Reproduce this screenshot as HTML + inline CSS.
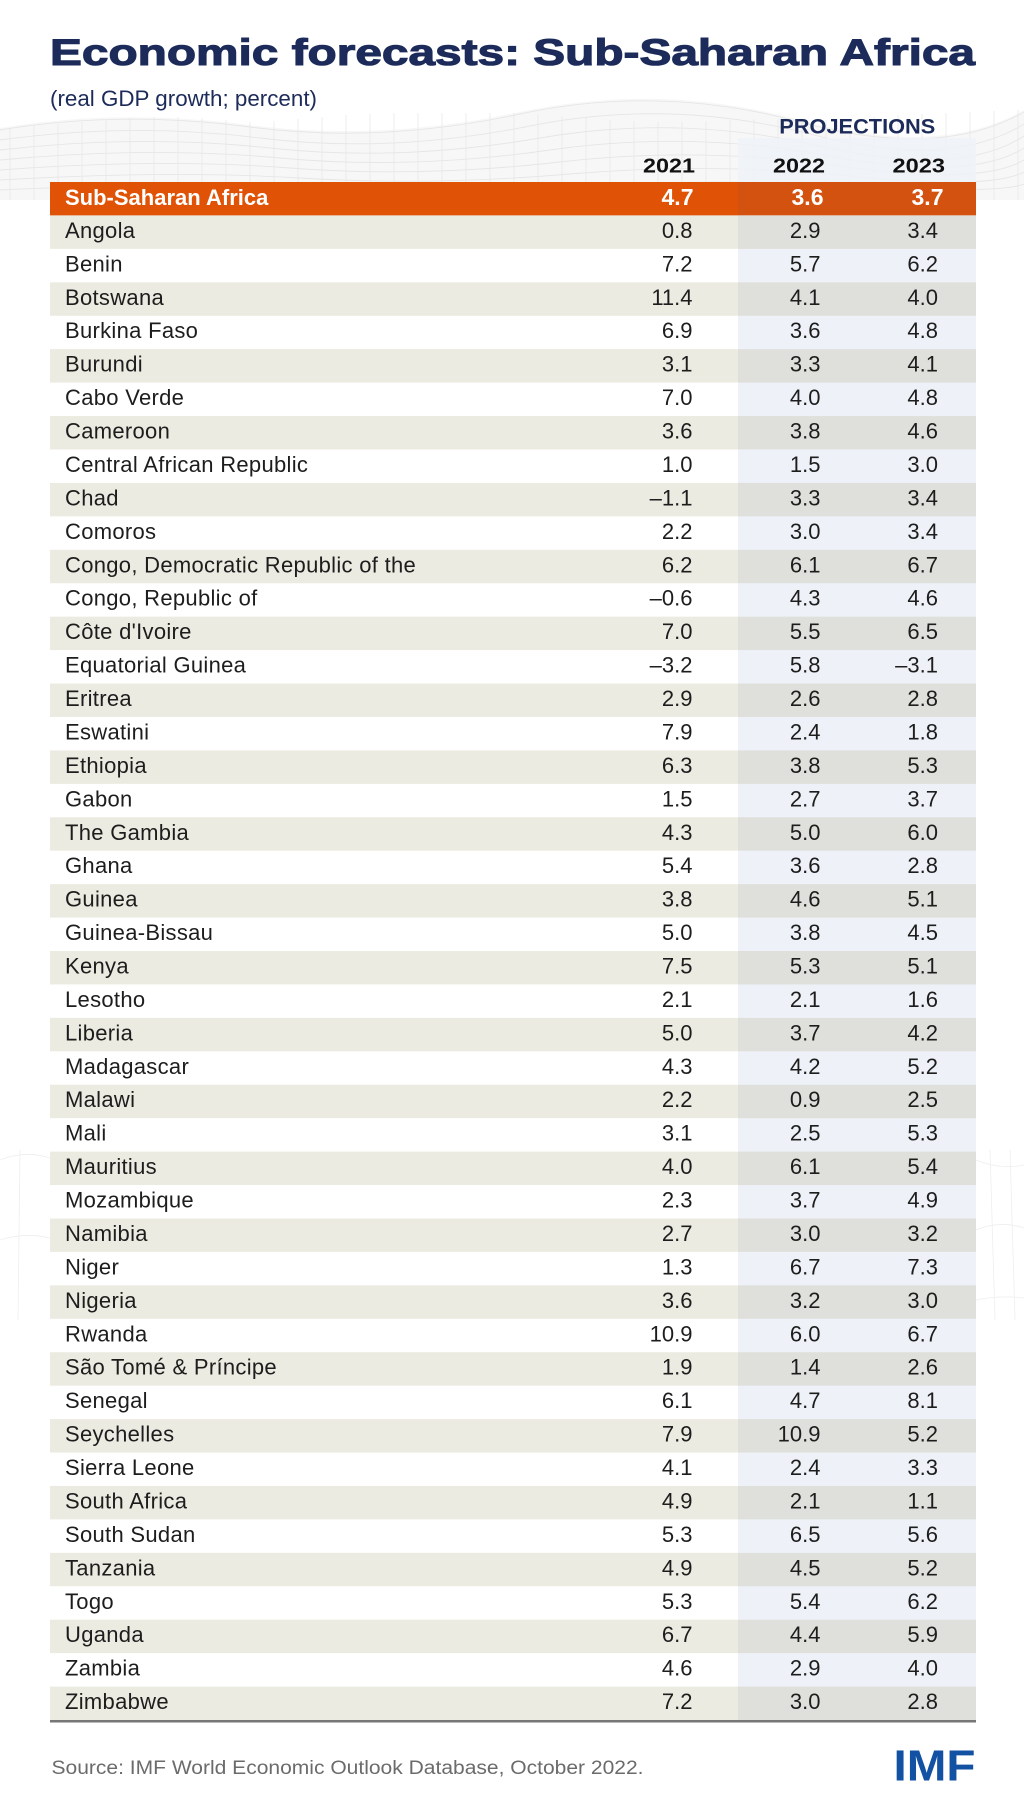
<!DOCTYPE html>
<html><head><meta charset="utf-8"><style>
html,body{margin:0;padding:0;background:#fff;}
svg{display:block;}
.n{font-family:"Liberation Sans",sans-serif;font-size:22px;fill:#1d1d1d;letter-spacing:0.3px;}
.v{font-family:"Liberation Sans",sans-serif;font-size:22px;fill:#1d1d1d;text-anchor:end;}
</style></head><body>
<svg width="1024" height="1820" viewBox="0 0 1024 1820" xmlns="http://www.w3.org/2000/svg">
<rect width="1024" height="1820" fill="#fff"/>
<!-- mesh background -->
<path d="M0 128 Q120 108 250 125 T520 112 T800 120 T1024 110 L1024 200 L0 200Z" fill="#f7f7f7"/>
<g fill="none" stroke="#e6e6e6" stroke-width="0.9">
<path d="M0 130 Q120 110 250 127 T520 114 T800 122 T1024 112"/>
<path d="M0 140 Q130 122 260 138 T530 126 T810 134 T1024 124"/>
<path d="M0 150 Q140 134 270 148 T540 138 T820 146 T1024 136"/>
<path d="M0 160 Q150 146 280 158 T550 150 T830 156 T1024 148"/>
<path d="M0 170 Q160 158 290 168 T560 162 T840 166 T1024 160"/>
<path d="M0 180 Q170 170 300 178 T570 174 T850 176 T1024 172"/>
<path d="M0 190 Q180 182 310 188 T580 186 T860 186 T1024 184"/>
</g>
<g stroke="#e8e8e8" stroke-width="0.8">
<path d="M10 128V200M34 126V200M58 124V200M82 122V200M106 120V200M130 118V200M154 117V200M178 117V200M202 118V200M226 120V200M250 122V200M274 121V200M298 119V200M322 117V200M346 115V200M370 114V200M394 113V200M418 113V200M442 113V200M466 113V200M490 113V200M514 113V200M538 114V200M562 116V200M586 118V200M610 120V200M634 121V200M658 122V200M682 122V200M706 121V200M730 120V200M754 119V200M778 119V200M802 120V200M826 120V200M850 119V200M874 117V200M898 115V200M922 114V200M946 113V200M970 112V200M994 111V200M1018 110V200"/>
</g>
<g fill="none" stroke="#eeeeee" stroke-width="0.8">
<path d="M976 1160 Q1000 1170 1024 1165M976 1230 Q1000 1220 1024 1228M976 1300 Q1000 1295 1024 1298M990 1150 L995 1320M1010 1150 L1015 1320"/>
<path d="M0 1160 Q25 1150 50 1158M0 1240 Q25 1232 50 1238M20 1150 L18 1320"/>
</g>

<!-- Title -->
<text x="50" y="65" font-family="Liberation Sans, sans-serif" font-weight="bold" font-size="37.5" fill="#1c2b5a" stroke="#1c2b5a" stroke-width="1.1" textLength="925" lengthAdjust="spacingAndGlyphs">Economic forecasts: Sub-Saharan Africa</text>
<text x="50" y="106" font-family="Liberation Sans, sans-serif" font-size="22" fill="#1c2b5a" textLength="267" lengthAdjust="spacingAndGlyphs">(real GDP growth; percent)</text>

<!-- projections band header -->
<rect x="738" y="138" width="238" height="44" fill="#eef2f7" opacity="0.9"/>
<text x="779.3" y="133.3" font-family="Liberation Sans, sans-serif" font-weight="bold" font-size="21" fill="#1c2b5a" textLength="156" lengthAdjust="spacingAndGlyphs">PROJECTIONS</text>
<g font-family="Liberation Sans, sans-serif" font-weight="bold" font-size="20" fill="#111">
<text x="643" y="172.7" textLength="52" lengthAdjust="spacingAndGlyphs">2021</text>
<text x="773" y="172.7" textLength="52" lengthAdjust="spacingAndGlyphs">2022</text>
<text x="892.5" y="172.7" textLength="52.5" lengthAdjust="spacingAndGlyphs">2023</text>
</g>

<!-- Row backgrounds -->
<rect x="50" y="182" width="926" height="33.43" fill="#e05206"/>
<rect x="738" y="182" width="238" height="33.43" fill="#d4520f"/>
<g fill="#ecebe1">
<rect x="50" y="215.43" width="926" height="33.44"/>
<rect x="50" y="282.30" width="926" height="33.44"/>
<rect x="50" y="349.17" width="926" height="33.44"/>
<rect x="50" y="416.04" width="926" height="33.44"/>
<rect x="50" y="482.91" width="926" height="33.44"/>
<rect x="50" y="549.78" width="926" height="33.44"/>
<rect x="50" y="616.65" width="926" height="33.44"/>
<rect x="50" y="683.52" width="926" height="33.44"/>
<rect x="50" y="750.39" width="926" height="33.44"/>
<rect x="50" y="817.26" width="926" height="33.44"/>
<rect x="50" y="884.13" width="926" height="33.44"/>
<rect x="50" y="951.00" width="926" height="33.44"/>
<rect x="50" y="1017.87" width="926" height="33.44"/>
<rect x="50" y="1084.74" width="926" height="33.44"/>
<rect x="50" y="1151.61" width="926" height="33.44"/>
<rect x="50" y="1218.48" width="926" height="33.44"/>
<rect x="50" y="1285.35" width="926" height="33.44"/>
<rect x="50" y="1352.22" width="926" height="33.44"/>
<rect x="50" y="1419.09" width="926" height="33.44"/>
<rect x="50" y="1485.96" width="926" height="33.44"/>
<rect x="50" y="1552.83" width="926" height="33.44"/>
<rect x="50" y="1619.70" width="926" height="33.44"/>
<rect x="50" y="1686.57" width="926" height="33.43"/>
</g>
<rect x="738" y="215.43" width="238" height="1504.57" fill="#eef2f8"/>
<g fill="#dfe0db">
<rect x="738" y="215.43" width="238" height="33.44"/>
<rect x="738" y="282.30" width="238" height="33.44"/>
<rect x="738" y="349.17" width="238" height="33.44"/>
<rect x="738" y="416.04" width="238" height="33.44"/>
<rect x="738" y="482.91" width="238" height="33.44"/>
<rect x="738" y="549.78" width="238" height="33.44"/>
<rect x="738" y="616.65" width="238" height="33.44"/>
<rect x="738" y="683.52" width="238" height="33.44"/>
<rect x="738" y="750.39" width="238" height="33.44"/>
<rect x="738" y="817.26" width="238" height="33.44"/>
<rect x="738" y="884.13" width="238" height="33.44"/>
<rect x="738" y="951.00" width="238" height="33.44"/>
<rect x="738" y="1017.87" width="238" height="33.44"/>
<rect x="738" y="1084.74" width="238" height="33.44"/>
<rect x="738" y="1151.61" width="238" height="33.44"/>
<rect x="738" y="1218.48" width="238" height="33.44"/>
<rect x="738" y="1285.35" width="238" height="33.44"/>
<rect x="738" y="1352.22" width="238" height="33.44"/>
<rect x="738" y="1419.09" width="238" height="33.44"/>
<rect x="738" y="1485.96" width="238" height="33.44"/>
<rect x="738" y="1552.83" width="238" height="33.44"/>
<rect x="738" y="1619.70" width="238" height="33.44"/>
<rect x="738" y="1686.57" width="238" height="33.43"/>
</g>
<rect x="50" y="1720" width="926" height="2.5" fill="#767676"/>

<!-- SSA row -->
<g font-family="Liberation Sans, sans-serif" font-weight="bold" fill="#fff">
<text x="65" y="205" font-size="22">Sub-Saharan Africa</text>
<text x="693.5" y="205" font-size="23" text-anchor="end">4.7</text>
<text x="823.5" y="205" font-size="23" text-anchor="end">3.6</text>
<text x="943.5" y="205" font-size="23" text-anchor="end">3.7</text>
</g>

<!-- Country names -->
<g class="n">
<text x="65" y="237.9" class="n">Angola</text>
<text x="65" y="271.4" class="n">Benin</text>
<text x="65" y="304.8" class="n">Botswana</text>
<text x="65" y="338.2" class="n">Burkina Faso</text>
<text x="65" y="371.7" class="n">Burundi</text>
<text x="65" y="405.1" class="n">Cabo Verde</text>
<text x="65" y="438.5" class="n">Cameroon</text>
<text x="65" y="472.0" class="n">Central African Republic</text>
<text x="65" y="505.4" class="n">Chad</text>
<text x="65" y="538.9" class="n">Comoros</text>
<text x="65" y="572.3" class="n">Congo, Democratic Republic of the</text>
<text x="65" y="605.7" class="n">Congo, Republic of</text>
<text x="65" y="639.2" class="n">Côte d'Ivoire</text>
<text x="65" y="672.6" class="n">Equatorial Guinea</text>
<text x="65" y="706.0" class="n">Eritrea</text>
<text x="65" y="739.5" class="n">Eswatini</text>
<text x="65" y="772.9" class="n">Ethiopia</text>
<text x="65" y="806.3" class="n">Gabon</text>
<text x="65" y="839.8" class="n">The Gambia</text>
<text x="65" y="873.2" class="n">Ghana</text>
<text x="65" y="906.6" class="n">Guinea</text>
<text x="65" y="940.1" class="n">Guinea-Bissau</text>
<text x="65" y="973.5" class="n">Kenya</text>
<text x="65" y="1006.9" class="n">Lesotho</text>
<text x="65" y="1040.4" class="n">Liberia</text>
<text x="65" y="1073.8" class="n">Madagascar</text>
<text x="65" y="1107.2" class="n">Malawi</text>
<text x="65" y="1140.7" class="n">Mali</text>
<text x="65" y="1174.1" class="n">Mauritius</text>
<text x="65" y="1207.5" class="n">Mozambique</text>
<text x="65" y="1241.0" class="n">Namibia</text>
<text x="65" y="1274.4" class="n">Niger</text>
<text x="65" y="1307.9" class="n">Nigeria</text>
<text x="65" y="1341.3" class="n">Rwanda</text>
<text x="65" y="1374.7" class="n">São Tomé &amp; Príncipe</text>
<text x="65" y="1408.2" class="n">Senegal</text>
<text x="65" y="1441.6" class="n">Seychelles</text>
<text x="65" y="1475.0" class="n">Sierra Leone</text>
<text x="65" y="1508.5" class="n">South Africa</text>
<text x="65" y="1541.9" class="n">South Sudan</text>
<text x="65" y="1575.3" class="n">Tanzania</text>
<text x="65" y="1608.8" class="n">Togo</text>
<text x="65" y="1642.2" class="n">Uganda</text>
<text x="65" y="1675.6" class="n">Zambia</text>
<text x="65" y="1709.1" class="n">Zimbabwe</text>
</g>

<!-- 2021 -->
<g class="v">
<text x="692.5" y="237.9" class="v">0.8</text>
<text x="692.5" y="271.4" class="v">7.2</text>
<text x="692.5" y="304.8" class="v">11.4</text>
<text x="692.5" y="338.2" class="v">6.9</text>
<text x="692.5" y="371.7" class="v">3.1</text>
<text x="692.5" y="405.1" class="v">7.0</text>
<text x="692.5" y="438.5" class="v">3.6</text>
<text x="692.5" y="472.0" class="v">1.0</text>
<text x="692.5" y="505.4" class="v">–1.1</text>
<text x="692.5" y="538.9" class="v">2.2</text>
<text x="692.5" y="572.3" class="v">6.2</text>
<text x="692.5" y="605.7" class="v">–0.6</text>
<text x="692.5" y="639.2" class="v">7.0</text>
<text x="692.5" y="672.6" class="v">–3.2</text>
<text x="692.5" y="706.0" class="v">2.9</text>
<text x="692.5" y="739.5" class="v">7.9</text>
<text x="692.5" y="772.9" class="v">6.3</text>
<text x="692.5" y="806.3" class="v">1.5</text>
<text x="692.5" y="839.8" class="v">4.3</text>
<text x="692.5" y="873.2" class="v">5.4</text>
<text x="692.5" y="906.6" class="v">3.8</text>
<text x="692.5" y="940.1" class="v">5.0</text>
<text x="692.5" y="973.5" class="v">7.5</text>
<text x="692.5" y="1006.9" class="v">2.1</text>
<text x="692.5" y="1040.4" class="v">5.0</text>
<text x="692.5" y="1073.8" class="v">4.3</text>
<text x="692.5" y="1107.2" class="v">2.2</text>
<text x="692.5" y="1140.7" class="v">3.1</text>
<text x="692.5" y="1174.1" class="v">4.0</text>
<text x="692.5" y="1207.5" class="v">2.3</text>
<text x="692.5" y="1241.0" class="v">2.7</text>
<text x="692.5" y="1274.4" class="v">1.3</text>
<text x="692.5" y="1307.9" class="v">3.6</text>
<text x="692.5" y="1341.3" class="v">10.9</text>
<text x="692.5" y="1374.7" class="v">1.9</text>
<text x="692.5" y="1408.2" class="v">6.1</text>
<text x="692.5" y="1441.6" class="v">7.9</text>
<text x="692.5" y="1475.0" class="v">4.1</text>
<text x="692.5" y="1508.5" class="v">4.9</text>
<text x="692.5" y="1541.9" class="v">5.3</text>
<text x="692.5" y="1575.3" class="v">4.9</text>
<text x="692.5" y="1608.8" class="v">5.3</text>
<text x="692.5" y="1642.2" class="v">6.7</text>
<text x="692.5" y="1675.6" class="v">4.6</text>
<text x="692.5" y="1709.1" class="v">7.2</text>
</g>

<!-- 2022 -->
<g class="v">
<text x="820.5" y="237.9" class="v">2.9</text>
<text x="820.5" y="271.4" class="v">5.7</text>
<text x="820.5" y="304.8" class="v">4.1</text>
<text x="820.5" y="338.2" class="v">3.6</text>
<text x="820.5" y="371.7" class="v">3.3</text>
<text x="820.5" y="405.1" class="v">4.0</text>
<text x="820.5" y="438.5" class="v">3.8</text>
<text x="820.5" y="472.0" class="v">1.5</text>
<text x="820.5" y="505.4" class="v">3.3</text>
<text x="820.5" y="538.9" class="v">3.0</text>
<text x="820.5" y="572.3" class="v">6.1</text>
<text x="820.5" y="605.7" class="v">4.3</text>
<text x="820.5" y="639.2" class="v">5.5</text>
<text x="820.5" y="672.6" class="v">5.8</text>
<text x="820.5" y="706.0" class="v">2.6</text>
<text x="820.5" y="739.5" class="v">2.4</text>
<text x="820.5" y="772.9" class="v">3.8</text>
<text x="820.5" y="806.3" class="v">2.7</text>
<text x="820.5" y="839.8" class="v">5.0</text>
<text x="820.5" y="873.2" class="v">3.6</text>
<text x="820.5" y="906.6" class="v">4.6</text>
<text x="820.5" y="940.1" class="v">3.8</text>
<text x="820.5" y="973.5" class="v">5.3</text>
<text x="820.5" y="1006.9" class="v">2.1</text>
<text x="820.5" y="1040.4" class="v">3.7</text>
<text x="820.5" y="1073.8" class="v">4.2</text>
<text x="820.5" y="1107.2" class="v">0.9</text>
<text x="820.5" y="1140.7" class="v">2.5</text>
<text x="820.5" y="1174.1" class="v">6.1</text>
<text x="820.5" y="1207.5" class="v">3.7</text>
<text x="820.5" y="1241.0" class="v">3.0</text>
<text x="820.5" y="1274.4" class="v">6.7</text>
<text x="820.5" y="1307.9" class="v">3.2</text>
<text x="820.5" y="1341.3" class="v">6.0</text>
<text x="820.5" y="1374.7" class="v">1.4</text>
<text x="820.5" y="1408.2" class="v">4.7</text>
<text x="820.5" y="1441.6" class="v">10.9</text>
<text x="820.5" y="1475.0" class="v">2.4</text>
<text x="820.5" y="1508.5" class="v">2.1</text>
<text x="820.5" y="1541.9" class="v">6.5</text>
<text x="820.5" y="1575.3" class="v">4.5</text>
<text x="820.5" y="1608.8" class="v">5.4</text>
<text x="820.5" y="1642.2" class="v">4.4</text>
<text x="820.5" y="1675.6" class="v">2.9</text>
<text x="820.5" y="1709.1" class="v">3.0</text>
</g>

<!-- 2023 -->
<g class="v">
<text x="938" y="237.9" class="v">3.4</text>
<text x="938" y="271.4" class="v">6.2</text>
<text x="938" y="304.8" class="v">4.0</text>
<text x="938" y="338.2" class="v">4.8</text>
<text x="938" y="371.7" class="v">4.1</text>
<text x="938" y="405.1" class="v">4.8</text>
<text x="938" y="438.5" class="v">4.6</text>
<text x="938" y="472.0" class="v">3.0</text>
<text x="938" y="505.4" class="v">3.4</text>
<text x="938" y="538.9" class="v">3.4</text>
<text x="938" y="572.3" class="v">6.7</text>
<text x="938" y="605.7" class="v">4.6</text>
<text x="938" y="639.2" class="v">6.5</text>
<text x="938" y="672.6" class="v">–3.1</text>
<text x="938" y="706.0" class="v">2.8</text>
<text x="938" y="739.5" class="v">1.8</text>
<text x="938" y="772.9" class="v">5.3</text>
<text x="938" y="806.3" class="v">3.7</text>
<text x="938" y="839.8" class="v">6.0</text>
<text x="938" y="873.2" class="v">2.8</text>
<text x="938" y="906.6" class="v">5.1</text>
<text x="938" y="940.1" class="v">4.5</text>
<text x="938" y="973.5" class="v">5.1</text>
<text x="938" y="1006.9" class="v">1.6</text>
<text x="938" y="1040.4" class="v">4.2</text>
<text x="938" y="1073.8" class="v">5.2</text>
<text x="938" y="1107.2" class="v">2.5</text>
<text x="938" y="1140.7" class="v">5.3</text>
<text x="938" y="1174.1" class="v">5.4</text>
<text x="938" y="1207.5" class="v">4.9</text>
<text x="938" y="1241.0" class="v">3.2</text>
<text x="938" y="1274.4" class="v">7.3</text>
<text x="938" y="1307.9" class="v">3.0</text>
<text x="938" y="1341.3" class="v">6.7</text>
<text x="938" y="1374.7" class="v">2.6</text>
<text x="938" y="1408.2" class="v">8.1</text>
<text x="938" y="1441.6" class="v">5.2</text>
<text x="938" y="1475.0" class="v">3.3</text>
<text x="938" y="1508.5" class="v">1.1</text>
<text x="938" y="1541.9" class="v">5.6</text>
<text x="938" y="1575.3" class="v">5.2</text>
<text x="938" y="1608.8" class="v">6.2</text>
<text x="938" y="1642.2" class="v">5.9</text>
<text x="938" y="1675.6" class="v">4.0</text>
<text x="938" y="1709.1" class="v">2.8</text>
</g>

<!-- Footer -->
<text x="51.5" y="1774" font-family="Liberation Sans, sans-serif" font-size="19" fill="#6b6b6b" textLength="592" lengthAdjust="spacingAndGlyphs">Source: IMF World Economic Outlook Database, October 2022.</text>
<text x="893.5" y="1780.7" font-family="Liberation Sans, sans-serif" font-weight="bold" font-size="43.5" fill="#1351a3" textLength="82" lengthAdjust="spacingAndGlyphs">IMF</text>
</svg>
</body></html>
